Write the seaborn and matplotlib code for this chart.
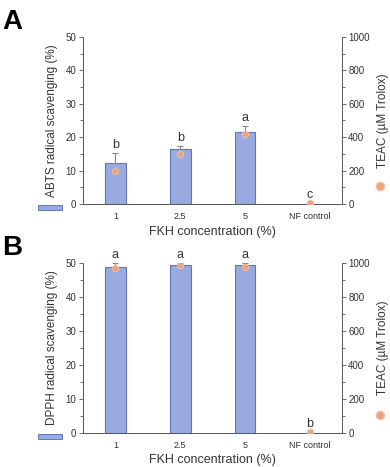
import matplotlib
matplotlib.use("Agg")
import matplotlib.pyplot as plt
import seaborn as sns
import pandas as pd
import numpy as np
from matplotlib.ticker import MultipleLocator
from matplotlib.patches import Rectangle
from matplotlib.lines import Line2D

sns.set_style("white")
plt.rcParams['font.family'] = ['Liberation Sans', 'DejaVu Sans']

categories = ["1", "2.5", "5", "NF control"]

abts_scav = [12.3, 16.5, 21.7, 0.0]
abts_err = [3.0, 1.0, 1.6, 0.0]
abts_teac = [198, 300, 422, 4]
abts_letters = ["b", "b", "a", "c"]

dpph_scav = [48.7, 49.5, 49.3, 0.0]
dpph_err = [1.4, 0.6, 0.8, 0.0]
dpph_teac = [968, 985, 978, 3]
dpph_letters = ["a", "a", "a", "b"]

panels = [
    ("A", "ABTS radical scavenging (%)", abts_scav, abts_err, abts_teac, abts_letters),
    ("B", "DPPH radical scavenging (%)", dpph_scav, dpph_err, dpph_teac, dpph_letters),
]

bar_color = "#98AADF"
bar_edge = "#6176B3"
dot_color = "#EBA27E"
txt = "#333333"

fig = plt.figure(figsize=(3.9, 4.67), dpi=100)
rects = [[0.213, 0.563, 0.664, 0.358], [0.213, 0.073, 0.664, 0.364]]

for (label, ylab, scav, err, teac, letters), rect in zip(panels, rects):
    ax = fig.add_axes(rect)
    df = pd.DataFrame({"cat": categories, "scav": scav, "err": err,
                       "teac": teac, "letter": letters})
    sns.barplot(data=df, x="cat", y="scav", ax=ax, color=bar_color,
                width=0.32, edgecolor=bar_edge, linewidth=0.8,
                saturation=1, errorbar=None)
    xs = np.arange(len(categories))
    ax.errorbar(xs[:3], df["scav"][:3], yerr=[np.zeros(3), df["err"][:3]],
                fmt="none", ecolor="#888888", elinewidth=0.8, capsize=2.5,
                capthick=0.8, zorder=4)
    ax.set_ylim(0, 50)
    ax.set_xlim(-0.5, 3.5)
    ax.yaxis.set_major_locator(MultipleLocator(10))
    ax.yaxis.set_minor_locator(MultipleLocator(5))
    ax.tick_params(axis="y", which="major", direction="out", length=3,
                   width=0.6, color="#555555", labelsize=7, labelcolor=txt,
                   left=True, pad=2)
    ax.tick_params(axis="y", which="minor", direction="out", length=2,
                   width=0.6, color="#555555", left=True)
    ax.tick_params(axis="x", length=0, labelsize=6.5, labelcolor=txt, pad=6)
    for s in ["top", "right"]:
        ax.spines[s].set_visible(False)
    for s in ["left", "bottom"]:
        ax.spines[s].set_color("#555555")
        ax.spines[s].set_linewidth(0.7)
    ax.set_xlabel("FKH concentration (%)", fontsize=9, color=txt, labelpad=3)
    ax.set_ylabel(ylab, fontsize=8.5, color=txt, labelpad=5)

    ax2 = ax.twinx()
    sns.scatterplot(x=xs, y=df["teac"], ax=ax2, color=dot_color, s=22,
                    edgecolor="#F3C2A6", linewidth=0.6, zorder=5)
    ax2.set_ylim(0, 1000)
    ax2.yaxis.set_major_locator(MultipleLocator(200))
    ax2.yaxis.set_minor_locator(MultipleLocator(100))
    ax2.tick_params(axis="y", which="major", direction="out", length=3,
                    width=0.6, color="#555555", labelsize=7, labelcolor=txt,
                    right=True, pad=1.5)
    ax2.tick_params(axis="y", which="minor", direction="out", length=2,
                    width=0.6, color="#555555", right=True)
    for s in ["top", "left", "bottom"]:
        ax2.spines[s].set_visible(False)
    ax2.spines["right"].set_color("#555555")
    ax2.spines["right"].set_linewidth(0.7)
    ax2.set_ylabel("TEAC (µM Trolox)", fontsize=8.5, color=txt, labelpad=5)

    for i, (v, e, l) in enumerate(zip(scav, err, letters)):
        top = max(v + e, teac[i] / 20)
        ax.text(i, top + 0.6, l, ha="center", va="bottom", fontsize=9,
                color=txt, clip_on=False)

    # legend keys next to axis titles
    b0 = rect[1]
    fig.add_artist(Rectangle((0.098, b0 - 0.012), 0.062, 0.01,
                             transform=fig.transFigure, facecolor=bar_color,
                             edgecolor=bar_edge, linewidth=0.7))
    fig.add_artist(Line2D([0.975], [b0 + 0.038], transform=fig.transFigure,
                          marker="o", markersize=6, color=dot_color,
                          markeredgecolor="#F3C2A6", linestyle="none"))

    fig.text(0.005, rect[1] + rect[3] + 0.005, label, fontsize=20,
             fontweight="bold", color="black", va="bottom", ha="left")

fig.savefig("out.png", dpi=100)
